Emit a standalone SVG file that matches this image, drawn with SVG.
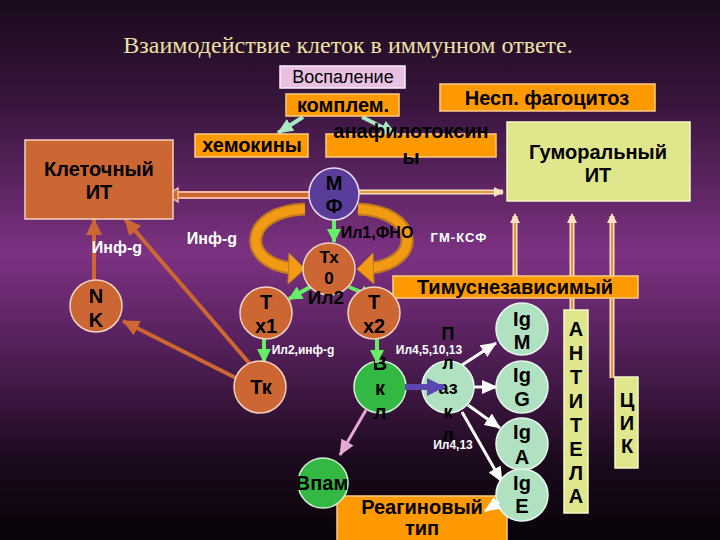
<svg xmlns="http://www.w3.org/2000/svg" width="720" height="540" viewBox="0 0 720 540">
<defs>
<linearGradient id="bg" x1="0" y1="0" x2="0" y2="1">
<stop offset="0" stop-color="#1a0a1c"/>
<stop offset="0.2" stop-color="#3a163e"/>
<stop offset="0.47" stop-color="#7c3282"/>
<stop offset="0.62" stop-color="#5a2260"/>
<stop offset="0.85" stop-color="#1c0a1e"/>
<stop offset="1" stop-color="#080308"/>
</linearGradient>
<marker id="mo" markerUnits="userSpaceOnUse" markerWidth="18" markerHeight="16" refX="16" refY="8" orient="auto"><path d="M0,0 L17,8 L0,16 Z" fill="#cc6633"/></marker>
<marker id="mg" markerUnits="userSpaceOnUse" markerWidth="14" markerHeight="14" refX="13" refY="7" orient="auto"><path d="M0,0 L14,7 L0,14 Z" fill="#66ee66"/></marker>
<marker id="mw" markerUnits="userSpaceOnUse" markerWidth="16" markerHeight="14" refX="15" refY="7" orient="auto"><path d="M0,0 L16,7 L0,14 Z" fill="#ffffff"/></marker>
<marker id="mp" markerUnits="userSpaceOnUse" markerWidth="16" markerHeight="14" refX="15" refY="7" orient="auto"><path d="M0,0 L16,7 L0,14 Z" fill="#e6a8d6"/></marker>
<marker id="ml" markerUnits="userSpaceOnUse" markerWidth="16" markerHeight="14" refX="15" refY="7" orient="auto"><path d="M0,0 L16,7 L0,14 Z" fill="#aae8c4"/></marker>
<marker id="mv" markerUnits="userSpaceOnUse" markerWidth="18" markerHeight="18" refX="17" refY="9" orient="auto"><path d="M0,0 L18,9 L0,18 Z" fill="#5a48b0"/></marker>
<marker id="mu" markerUnits="userSpaceOnUse" markerWidth="10" markerHeight="10" refX="9" refY="5" orient="auto"><path d="M0,0 L10,5 L0,10 Z" fill="#ffe0c0"/></marker>
</defs>
<style>
text{font-family:"Liberation Sans",Arial,sans-serif;font-weight:bold;text-anchor:middle;fill:#000}
.title{font-family:"Liberation Serif","Times New Roman",serif;font-weight:normal;font-size:24px;fill:#ece2a6}
.ob{fill:#ff9900;stroke:#ffcc88;stroke-width:1.5}
.yb{fill:#e0e68c;stroke:#f6f6c8;stroke-width:1.5}
.oc{fill:#cc6633;stroke:#f2d2c0;stroke-width:1.5}
.gc{fill:#33b844;stroke:#d8f0d8;stroke-width:1.5}
.lc{fill:#b0e2c2;stroke:#e8f8ee;stroke-width:1.5}
.wl{fill:#ffffff;font-size:13px}
.big{font-size:20px}
.mid{font-size:18px}
.oa{stroke:#cc6633;stroke-width:4;fill:none;marker-end:url(#mo)}
.ga{stroke:#66ee66;stroke-width:4;fill:none;marker-end:url(#mg)}
.wa{stroke:#ffffff;stroke-width:3;fill:none;marker-end:url(#mw)}
.ua{stroke:#ffe0c0;stroke-width:5;fill:none}
.ui{stroke:#e8943c;stroke-width:2;fill:none}
</style>
<rect width="720" height="540" fill="url(#bg)"/>
<text class="title" x="348" y="53">Взаимодействие клеток в иммунном ответе.</text>

<g id="connectors">
<line x1="310" y1="195" x2="172" y2="195" stroke="#f2b89c" stroke-width="8"/>
<line x1="310" y1="195" x2="172" y2="195" stroke="#cc6633" stroke-width="4"/>
<path d="M178,188 L167,195 L178,202 Z" fill="#cc6633" stroke="#f2b89c" stroke-width="1.5"/>
<line x1="358" y1="192" x2="503" y2="192" class="ua"/>
<line x1="358" y1="192" x2="503" y2="192" class="ui" marker-end="url(#mu)"/>
<line x1="515" y1="276" x2="515" y2="216" class="ua"/>
<line x1="515" y1="276" x2="515" y2="214" class="ui" marker-end="url(#mu)"/>
<line x1="572" y1="312" x2="572" y2="216" class="ua"/>
<line x1="572" y1="312" x2="572" y2="214" class="ui" marker-end="url(#mu)"/>
<line x1="612" y1="378" x2="612" y2="216" class="ua"/>
<line x1="612" y1="378" x2="612" y2="214" class="ui" marker-end="url(#mu)"/>
<line x1="303" y1="117" x2="278" y2="133" stroke="#aae8c4" stroke-width="4" marker-end="url(#ml)"/>
<line x1="362" y1="117" x2="396" y2="134" stroke="#aae8c4" stroke-width="4" marker-end="url(#ml)"/>
<path d="M305,209 C244,211 240,262 291,268" fill="none" stroke="#c07a20" stroke-width="13"/>
<path d="M305,209 C244,211 240,262 291,268" fill="none" stroke="#f29a14" stroke-width="9"/>
<path d="M289,253 L305,269 L288,284 Z" fill="#f29a14" stroke="#c07a20" stroke-width="1"/>
<path d="M358,209 C419,211 423,262 371,268" fill="none" stroke="#c07a20" stroke-width="13"/>
<path d="M358,209 C419,211 423,262 371,268" fill="none" stroke="#f29a14" stroke-width="9"/>
<path d="M373,253 L357,269 L374,284 Z" fill="#f29a14" stroke="#c07a20" stroke-width="1"/>
<line x1="334" y1="220" x2="334" y2="242" class="ga"/>
<line x1="310" y1="287" x2="289" y2="299" class="ga"/>
<line x1="349" y1="287" x2="373" y2="297" class="ga"/>
<line x1="264" y1="339" x2="264" y2="362" class="ga"/>
<line x1="94" y1="281" x2="94" y2="219" class="oa"/>
<line x1="250" y1="364" x2="125" y2="219" class="oa"/>
<line x1="236" y1="378" x2="123" y2="321" class="oa"/>
<line x1="366" y1="410" x2="340" y2="455" stroke="#e6a8d6" stroke-width="3" marker-end="url(#mp)"/>
<line x1="462" y1="365" x2="496" y2="343" class="wa"/>
<line x1="474" y1="387" x2="497" y2="387" class="wa"/>
<line x1="468" y1="405" x2="500" y2="428" class="wa"/>
<line x1="462" y1="412" x2="502" y2="482" class="wa"/>
</g>

<g id="labels">
<text class="wl" x="212" y="244" style="font-size:16px">Инф-g</text>
<text class="wl" x="117" y="253" style="font-size:16px">Инф-g</text>
<text x="377" y="238" style="font-size:16px">Ил1,ФНО</text>
<text class="wl" x="459" y="242" letter-spacing="1">ГМ-КСФ</text>
<text class="wl" x="303" y="354" style="font-size:12px">Ил2,инф-g</text>
<text class="wl" x="429" y="354" style="font-size:12px">Ил4,5,10,13</text>
<text class="wl" x="453" y="449" style="font-size:12px">Ил4,13</text>
</g>

<g id="vospalenie"><rect x="280" y="66" width="125" height="22" fill="#e8c0e2" stroke="#fbeefb" stroke-width="1.5"/><text x="343" y="83" style="font-weight:normal;font-size:18px">Воспаление</text></g>
<g id="komplem"><rect class="ob" x="286" y="94" width="113" height="22"/><text x="343" y="112" class="big">комплем.</text></g>
<g id="fagocitoz"><rect class="ob" x="440" y="84" width="215" height="27"/><text x="547" y="105" class="big">Несп. фагоцитоз</text></g>
<g id="hemokiny"><rect class="ob" x="195" y="134" width="113" height="23"/><text x="252" y="152" class="big">хемокины</text></g>
<g id="anafilotoksiny"><rect class="ob" x="326" y="134" width="170" height="23"/><text x="411" y="138" class="big">анафилотоксин</text><text x="411" y="164" class="big">ы</text></g>
<g id="gumoralny"><rect class="yb" x="507" y="122" width="183" height="79"/><text x="598" y="159" class="big">Гуморальный</text><text x="598" y="182" class="big">ИТ</text></g>
<g id="kletochny"><rect class="oc" x="25" y="140" width="148" height="79"/><text x="99" y="176" class="big">Клеточный</text><text x="99" y="199" class="big">ИТ</text></g>
<g id="timus"><rect class="ob" x="393" y="276" width="245" height="22"/><text x="515" y="294" class="big">Тимуснезависимый</text></g>
<g id="antitela"><rect class="yb" x="564" y="310" width="24" height="203"/>
<text x="576" y="336" class="big">А</text><text x="576" y="360" class="big">Н</text><text x="576" y="384" class="big">Т</text><text x="576" y="408" class="big">И</text><text x="576" y="432" class="big">Т</text><text x="576" y="456" class="big">Е</text><text x="576" y="480" class="big">Л</text><text x="576" y="503" class="big">А</text></g>
<g id="cik"><rect class="yb" x="615" y="377" width="23" height="91"/>
<text x="627" y="407" class="big">Ц</text><text x="627" y="430" class="big">И</text><text x="627" y="453" class="big">К</text></g>
<g id="reagin"><rect class="ob" x="337" y="496" width="170" height="46"/><text x="422" y="514" class="big">Реагиновый</text><text x="422" y="535" class="big">тип</text></g>

<g id="mf"><ellipse cx="334" cy="194" rx="25" ry="26" fill="#5a3c9a" stroke="#e4dcf2" stroke-width="1.5"/><text x="334" y="190" class="big">М</text><text x="334" y="213" class="big">Ф</text></g>
<g id="tx0"><circle class="oc" cx="329" cy="269" r="26"/><text x="329" y="263" style="font-size:17px">Тх</text><text x="329" y="284" style="font-size:17px">0</text></g>
<g id="tx1"><circle class="oc" cx="266" cy="313" r="26"/><text x="266" y="309" class="big">Т</text><text x="266" y="333" class="big">х1</text></g>
<g id="tx2"><circle class="oc" cx="374" cy="313" r="26"/><text x="374" y="309" class="big">Т</text><text x="374" y="333" class="big">х2</text></g>
<g id="nk"><circle class="oc" cx="96" cy="306" r="26"/><text x="96" y="303" class="big">N</text><text x="96" y="327" class="big">K</text></g>
<g id="tk"><circle class="oc" cx="260" cy="387" r="26"/><text x="261" y="394" class="big">Тк</text></g>
<g id="bkl"><circle class="gc" cx="380" cy="387" r="26"/><text x="380" y="370" class="big">В</text><text x="380" y="395" class="big">к</text><text x="380" y="419" class="big">л</text></g>
<g id="plazkl"><circle class="lc" cx="448" cy="387" r="26"/><text x="448" y="340" class="mid">П</text><text x="448" y="369" class="mid">л</text><text x="448" y="394" class="mid">аз</text><text x="448" y="418" class="mid">к</text><text x="448" y="441" class="mid">л</text></g>
<g id="bpam"><circle class="gc" cx="323" cy="483" r="25"/><text x="322" y="490" class="big">Впам</text></g>
<g id="igm"><circle class="lc" cx="522" cy="329" r="26"/><text x="522" y="326" class="big">Ig</text><text x="522" y="349" class="big">M</text></g>
<g id="igg"><circle class="lc" cx="522" cy="387" r="26"/><text x="522" y="382" class="big">Ig</text><text x="522" y="406" class="big">G</text></g>
<g id="iga"><circle class="lc" cx="522" cy="444" r="26"/><text x="522" y="439" class="big">Ig</text><text x="522" y="464" class="big">A</text></g>
<g id="ige"><circle class="lc" cx="522" cy="495" r="26"/><text x="522" y="490" class="big">Ig</text><text x="522" y="513" class="big">E</text></g>

<g id="connectors-front">
<line x1="377" y1="339" x2="377" y2="363" class="ga"/>
<line x1="405" y1="387" x2="444" y2="387" stroke="#5a48b0" stroke-width="6" marker-end="url(#mv)"/>
<line x1="499" y1="502" x2="485" y2="511" class="wa"/>
</g>
<text x="326" y="304" style="font-size:19px">Ил2</text>
</svg>
